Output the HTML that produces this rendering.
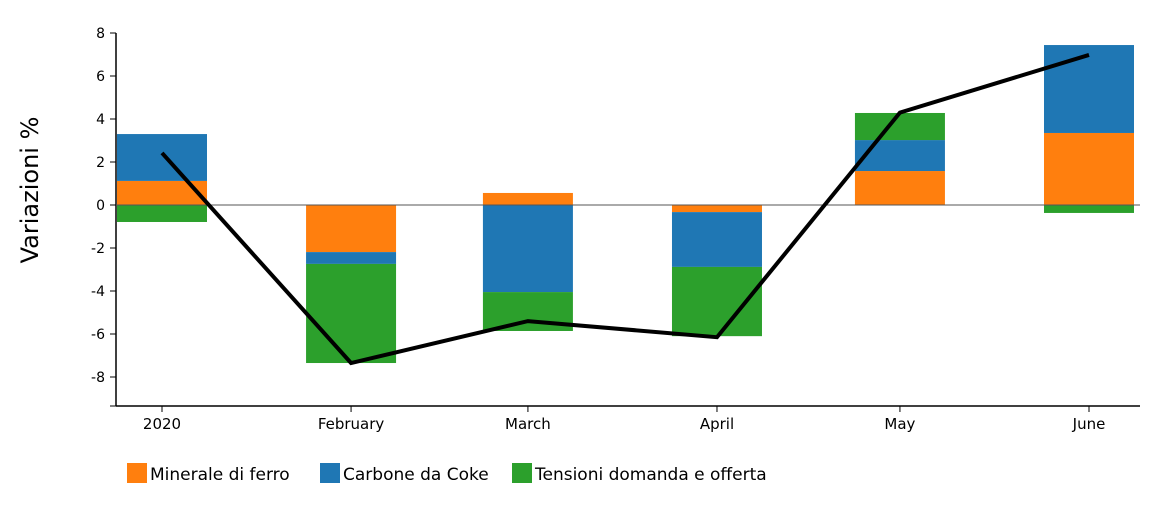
<!DOCTYPE html>
<html><head><meta charset="utf-8"><style>
body{margin:0;background:#fff;font-family:"Liberation Sans","DejaVu Sans",sans-serif}
svg text{font-family:"DejaVu Sans","Liberation Sans",sans-serif}
</style></head><body>
<svg id="chart" width="1154" height="507" xmlns="http://www.w3.org/2000/svg"></svg>
<script>
const categories=["2020","February","March","April","May","June"];
const dayOffsets=[0,31,60,91,121,152];
const minerale=[1.12,-2.19,0.56,-0.33,1.58,3.35];
const carbone=[2.18,-0.55,-4.05,-2.55,1.44,4.09];
const tensioni=[-0.79,-4.61,-1.81,-3.22,1.26,-0.37];
const totale=[2.42,-7.35,-5.4,-6.15,4.3,6.98];
const yTicks=[-8,-6,-4,-2,0,2,4,6,8];
const seriesNames=["Minerale di ferro","Carbone da Coke","Tensioni domanda e offerta"];
const colors=["#ff7f0e","#1f77b4","#2ca02c"];
const NS="http://www.w3.org/2000/svg";
const svg=document.getElementById('chart');
const y=v=>205-v*21.5;
const x=d=>162+d*(1089-162)/152;
function mk(t,a,p){const e=document.createElementNS(NS,t);for(const k in a)e.setAttribute(k,a[k]);(p||svg).appendChild(e);return e;}
// axes
const ax=mk('g',{});


mk('line',{x1:116,y1:33,x2:116,y2:406,stroke:'#000','stroke-width':1.5},ax);
yTicks.forEach(t=>{
 mk('line',{x1:110,y1:y(t),x2:116,y2:y(t),stroke:'#000'},ax);
 const tx=mk('text',{x:105,y:y(t)+5,'text-anchor':'end','font-size':14},ax);
 tx.textContent=t;
 
 
});
mk('line',{x1:110,y1:406,x2:116,y2:406,stroke:'#000'},ax);
const xa=mk('g',{});


mk('line',{x1:116,y1:406,x2:1140,y2:406,stroke:'#000','stroke-width':1.5},xa);
categories.forEach((c,i)=>{
 const px=x(dayOffsets[i]);
 mk('line',{x1:px,y1:406,x2:px,y2:412,stroke:'#000'},xa);
 const tx=mk('text',{x:px,y:429,'text-anchor':'middle','font-size':15},xa);
 tx.textContent=c;
 
 
});
const yt=mk('text',{x:0,y:0,transform:'translate(38,190) rotate(-90)','text-anchor':'middle','font-size':24});
yt.textContent='Variazioni %';


// bars
const series=[minerale,carbone,tensioni];
categories.forEach((c,i)=>{
 let pos=0,neg=0;
 series.forEach((s,j)=>{
  const v=s[i];let a,b;
  if(v>=0){a=pos;b=pos+v;pos=b;}else{a=neg;b=neg+v;neg=b;}
  const r=mk('rect',{x:x(dayOffsets[i])-45,y:Math.min(y(a),y(b)),width:90,height:Math.abs(y(a)-y(b)),fill:colors[j]});
  
  
 });
});
const zl=mk('line',{x1:116,y1:y(0),x2:1140,y2:y(0),stroke:'#555','stroke-width':1});


const pl=mk('polyline',{points:totale.map((v,i)=>x(dayOffsets[i])+','+y(v)).join(' '),fill:'none',stroke:'#000','stroke-width':4});


// legend
const lx=[127,320,512];
seriesNames.forEach((n,j)=>{
 const g=mk('g',{});
 
 
 mk('rect',{x:lx[j],y:463,width:20,height:20,fill:colors[j]},g);
 const t=mk('text',{x:lx[j]+23,y:480,'font-size':17},g);
 t.textContent=n;
});
</script>
</body></html>
